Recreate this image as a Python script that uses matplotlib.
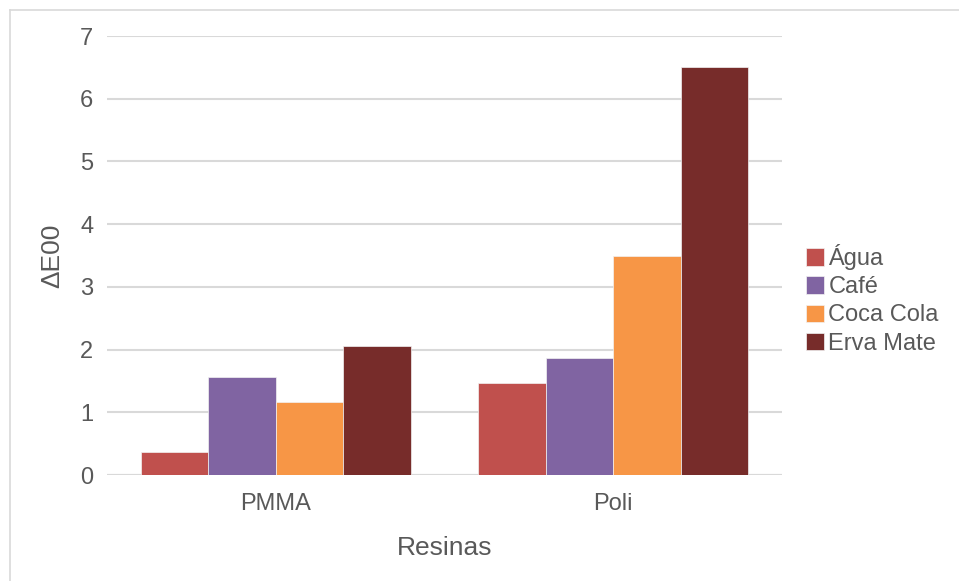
import numpy as np
import matplotlib.pyplot as plt
from matplotlib.lines import Line2D

plt.rcParams['font.family'] = ['Liberation Sans', 'DejaVu Sans']

resinas = ['PMMA', 'Poli']
series = ['Água', 'Café', 'Coca Cola', 'Erva Mate']
agua = [0.36, 1.46]
cafe = [1.56, 1.86]
coca_cola = [1.17, 3.49]
erva_mate = [2.06, 6.50]
colors = ['#C0504D', '#8064A2', '#F79646', '#772C2A']

text_color = '#595959'
grid_color = '#D9D9D9'

fig = plt.figure(figsize=(9.59, 5.81), dpi=100)
ax = fig.add_axes([0.1116, 0.1824, 0.7038, 0.7556])

x = np.arange(len(resinas))
width = 0.2
values = [agua, cafe, coca_cola, erva_mate]
for i, (name, vals) in enumerate(zip(series, values)):
    ax.bar(x + (i - 1.5) * width, vals, width, color=colors[i], label=name,
           edgecolor='#F2F2F2', linewidth=0.5, zorder=3)

ax.set_xlim(-0.5, 1.5)
ax.set_ylim(0, 7)
ax.set_yticks(range(0, 8))
ax.set_xticks(x)
ax.set_xticklabels(resinas)
ax.yaxis.grid(True, color=grid_color, linewidth=1.5, zorder=0)
ax.set_axisbelow(True)
for s in ax.spines.values():
    s.set_visible(False)
ax.axhline(0, color=grid_color, linewidth=1.5, zorder=1)
ax.tick_params(axis='both', length=0, labelsize=17, colors=text_color)
ax.tick_params(axis='y', pad=10)
ax.tick_params(axis='x', pad=13)

ax.set_xlabel('Resinas', fontsize=19, color=text_color, labelpad=15)
ax.set_ylabel('ΔE00', fontsize=19, color=text_color, labelpad=11)

leg = ax.legend(loc='center left', bbox_to_anchor=(1.018, 0.40), frameon=False,
                fontsize=17, handlelength=0.75, handleheight=0.75,
                handletextpad=0.2, labelspacing=0.26, borderpad=0)
for t in leg.get_texts():
    t.set_color(text_color)

# thin frame on the top and left edges of the figure
fig.add_artist(Line2D([10 / 959, 1.0], [1 - 10 / 581, 1 - 10 / 581],
                      transform=fig.transFigure, color='#D9D9D9', linewidth=1.2))
fig.add_artist(Line2D([10 / 959, 10 / 959], [0, 1 - 10 / 581],
                      transform=fig.transFigure, color='#D9D9D9', linewidth=1.2))

fig.savefig('out.png', dpi=100)
